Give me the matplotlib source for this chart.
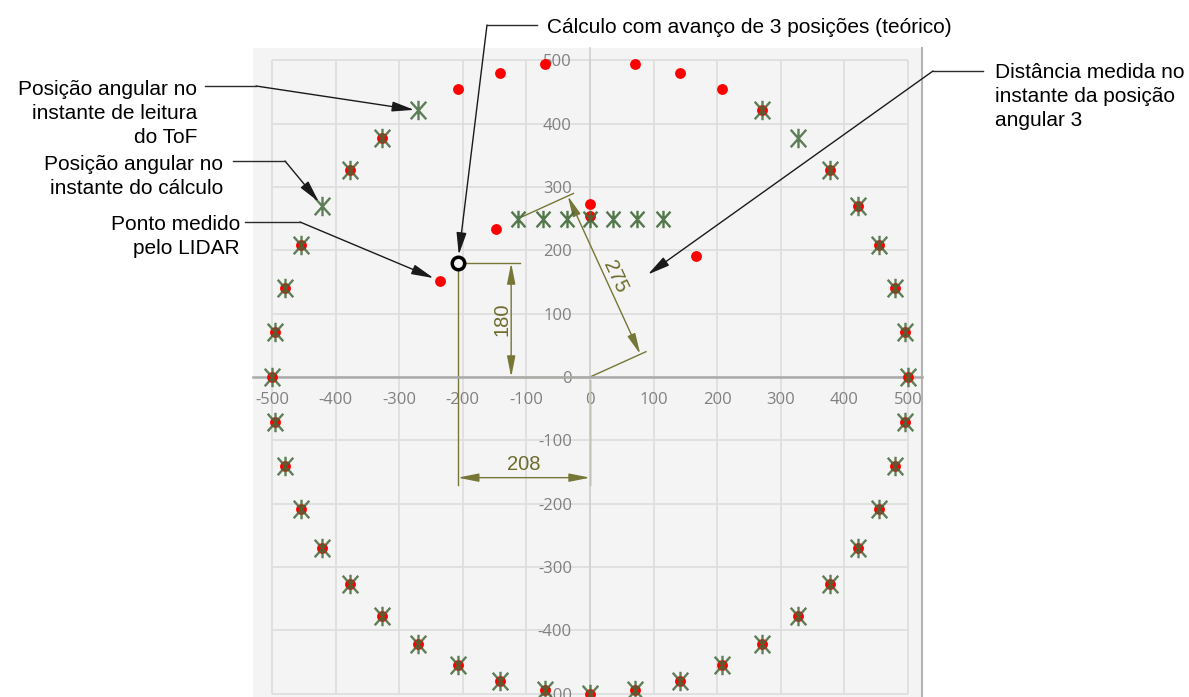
import matplotlib.pyplot as plt
from matplotlib.path import Path
from matplotlib.lines import Line2D

plt.rcParams['font.family'] = ['Liberation Sans', 'DejaVu Sans']
plt.rcParams['axes.unicode_minus'] = False

# angular positions on the 500 mm ring (asterisks)
pos_x = [500, 495, 480, 455, 421, 378, 327, 270,
         -270, -327, -378, -421, -455, -480, -495, -500,
         -495, -480, -455, -421, -378, -327, -270, -208, -141, -71,
         0, 71, 141, 208, 270, 327, 378, 421, 455, 480, 495]
pos_y = [0, 71, 141, 208, 270, 327, 378, 421,
         421, 378, 327, 270, 208, 141, 71, 0,
         -71, -141, -208, -270, -327, -378, -421, -455, -480, -495,
         -500, -495, -480, -455, -421, -378, -327, -270, -208, -141, -71]

# positions projected on the wall (y = 250)
wall_x = [114, 74, 36, 0, -36, -74, -114]
wall_y = [250, 250, 250, 250, 250, 250, 250]

# points measured by the LIDAR
lidar_x = [500, 495, 480, 455, 421, 378, 166, 270, 208, 141, 71, 0, 0,
           -71, -141, -208, -148, -327, -378, -236,
           -455, -480, -495, -500, -495, -480, -455, -421, -378, -327, -270,
           -208, -141, -71, 0, 71, 141, 208, 270, 327, 378, 421, 455, 480, 495]
lidar_y = [0, 71, 141, 208, 270, 327, 191, 421, 455, 480, 495, 273, 255,
           495, 480, 455, 233, 378, 327, 152,
           208, 141, 71, 0, -71, -141, -208, -270, -327, -378, -421,
           -455, -480, -495, -500, -495, -480, -455, -421, -378, -327, -270, -208, -141, -71]

# point computed with a 3-position advance
calc_x = [-208]
calc_y = [180]

ticks = [-500, -400, -300, -200, -100, 0, 100, 200, 300, 400, 500]

W, H = 1189, 697
fig = plt.figure(figsize=(W / 100, H / 100), dpi=100)
ax = fig.add_axes([253 / W, 0, (922 - 253) / W, (H - 48) / H])
ax.set_facecolor('#f4f4f4')
ax.set_xlim(-530, 522)
ax.set_ylim(-505.5, 519.7)

# grid limited to the +-500 box
ax.hlines(ticks, -500, 500, color='#dddddd', lw=1.2, zorder=0.5)
ax.vlines(ticks, -500, 500, color='#dddddd', lw=1.2, zorder=0.5)

ax.spines['top'].set_visible(False)
ax.spines['bottom'].set_position(('data', 0))
ax.spines['bottom'].set_color('#aaaaaa')
ax.spines['bottom'].set_linewidth(1.8)
ax.spines['left'].set_position(('data', 0))
ax.spines['left'].set_color('#d0d0d0')
ax.spines['left'].set_linewidth(1.2)
ax.spines['right'].set_color('#b4b4b4')
ax.spines['right'].set_linewidth(1.5)

ax.set_xticks(ticks)
ax.set_yticks(ticks)
ax.tick_params(length=0, labelsize=12, labelcolor='#808080')
ax.tick_params(axis='x', pad=11)
ax.tick_params(axis='y', pad=13)
for lb in ax.get_xticklabels() + ax.get_yticklabels():
    lb.set_fontfamily('Open Sans')

# asterisk marker: vertical stroke plus an X
star = Path([(0, -1), (0, 1), (-0.8, -0.9), (0.8, 0.9), (-0.8, 0.9), (0.8, -0.9)],
            [Path.MOVETO, Path.LINETO, Path.MOVETO, Path.LINETO, Path.MOVETO, Path.LINETO])

ax.plot(lidar_x, lidar_y, 'o', color='#ff0000', ms=7.8, mew=0, zorder=3)
ax.plot(pos_x, pos_y, ls='none', marker=star, ms=14, mfc='none',
        mec='#436a3a', mew=1.7, alpha=0.85, zorder=4)
ax.plot(wall_x, wall_y, ls='none', marker=star, ms=12.5, mfc='none',
        mec='#436a3a', mew=1.7, alpha=0.9, zorder=4)
ax.plot(calc_x, calc_y, 'o', mfc='none', mec='black', ms=9, mew=2.5, zorder=6)

# dimension lines
dim = '#767636'
dkw = dict(color=dim, lw=1, zorder=2)
darrow = dict(arrowstyle='<|-|>,head_length=0.9,head_width=0.18', color=dim,
              lw=1, shrinkA=0, shrinkB=0, mutation_scale=14)

ax.plot([-198, -110], [180, 180], **dkw)
ax.plot([-134, 0], [0, 0], **dkw)
ax.annotate('', xy=(-124, 180), xytext=(-124, 0), arrowprops=darrow)
ax.text(-139, 92, '180', rotation=90, ha='center', va='center',
        fontsize=14.5, color='#6c6c2c')

ax.plot([-208, -208], [170, -170], **dkw)
ax.plot([0, 0], [-5, -170], **dkw)
ax.annotate('', xy=(-208, -159), xytext=(0, -159), arrowprops=darrow)
ax.text(-104, -153, '208', ha='center', va='bottom', fontsize=14.5, color='#6c6c2c')

ax.plot([0, 88], [0, 40], **dkw)
ax.plot([-107, -26], [253, 290], **dkw)
ax.annotate('', xy=(-35, 286), xytext=(79, 36), arrowprops=darrow)
ax.text(40, 158, '275', rotation=-65, ha='center', va='center',
        rotation_mode='anchor', fontsize=14.5, color='#6c6c2c')


# callouts, positioned in figure pixels from the top-left corner
def fp(x, y):
    return (x / W, 1 - y / H)


def callout(lines, x, y0, ha):
    for i, s in enumerate(lines):
        fig.text(*fp(x, y0 + 24 * i), s, ha=ha, va='baseline',
                 fontsize=15, color='black')


def leader(p0, p1, tip, shrink):
    (x0, y0), (x1, y1) = fp(*p0), fp(*p1)
    fig.add_artist(Line2D([x0, x1], [y0, y1], transform=fig.transFigure,
                          color='#2a2a2a', lw=1))
    ax.annotate('', xy=tip, xycoords='data', xytext=(x1, y1),
                textcoords='figure fraction', annotation_clip=False,
                arrowprops=dict(arrowstyle='-|>,head_length=0.75,head_width=0.17',
                                color='#1a1a1a', lw=1, shrinkA=0, shrinkB=shrink,
                                mutation_scale=18), zorder=7)


callout(['Posição angular no', 'instante de leitura', 'do ToF'], 197, 95, 'right')
leader((205, 86), (256, 86), (-270, 421), 3)

callout(['Posição angular no', 'instante do cálculo'], 223, 170, 'right')
leader((233, 161), (285, 161), (-421, 270), 4)

callout(['Ponto medido', 'pelo LIDAR'], 240, 230, 'right')
leader((245, 222), (300, 222), (-236, 152), 5)

callout(['Cálculo com avanço de 3 posições (teórico)'], 547, 33, 'left')
leader((537, 25), (487, 25), (calc_x[0], calc_y[0]), 6)

callout(['Distância medida no', 'instante da posição', 'angular 3'], 995, 78, 'left')
leader((983, 71), (933, 71), (91, 162), 0)

fig.savefig('out.png', dpi=100)
